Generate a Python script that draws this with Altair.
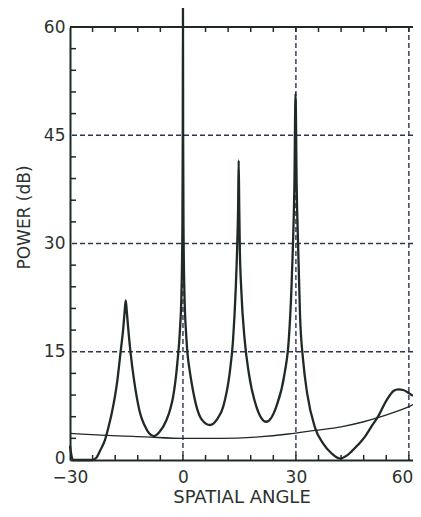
import altair as alt
import pandas as pd

# Spectrum (thick curve)
spec_x = [-30, -29.6, -29.2, -24, -23, -22, -20.7, -19.8, -18.9, -18, -17.4, -16.6, -15.9, -15.5,
          -15.2, -14.9, -14.5, -13.9, -13.0, -12.2, -11.4, -10.1, -9, -7.7, -6.2, -4.4, -3.4, -2.6,
          -1.5, -0.8, -0.4, -0.15, -0.05, 0, 0.05, 0.15, 0.4, 0.9, 1.9, 2.3, 3.6, 5, 7.2, 9, 10.7,
          12.4, 13.3, 14.0, 14.4, 14.65, 14.8, 14.95, 15.1, 15.5, 16.4, 17.5, 19.5, 22.1, 24.8,
          27.0, 28.1, 28.8, 29.2, 29.6, 29.9, 30.2, 30.6, 31.1, 31.9, 33.0, 35.0, 37.2, 39.5,
          41.7, 43.5, 44.8, 46.5, 48.3, 50, 51.8, 54.1, 56, 57.2, 58.5, 60.2, 61.1]
spec_y = [2.0, 0.6, 0, 0, 0.3, 1.3, 2.8, 4.5, 6.5, 9, 11.1, 14.8, 18, 20.5,
          22.1, 20.5, 18, 14.8, 11.1, 8.5, 6.5, 4.7, 3.7, 3.3, 3.9, 5.5, 7.0, 8.8,
          13.4, 18, 23, 32, 45, 62.7, 45, 32, 23, 17, 12, 10.7, 7.4, 5.6, 4.85, 5.6, 7.4,
          12, 16.6, 23.5, 29.5, 35, 41.5, 35, 29.5, 23.5, 16.6, 12, 7.4, 5.3, 7.4,
          12, 16.6, 23.5, 29.5, 38, 50.8, 38, 29.5, 20, 13.9, 9.2, 4.6, 2.3, 0.9,
          0.2, 0.6, 1.2, 2.1, 3.2, 4.6, 6.0, 8.3, 9.6, 9.8, 9.7, 9.2, 8.9]

# Smooth (thin) curve
thin_x = [-30, -20, -10, 0, 10, 20, 28, 35, 42, 48, 52, 56, 60, 61.1]
thin_y = [3.7, 3.4, 3.2, 3.0, 3.0, 3.2, 3.6, 4.1, 4.6, 5.3, 5.9, 6.6, 7.4, 7.7]

x_ticks = [-30, 0, 30, 60]
y_ticks = [0, 15, 30, 45, 60]
x_grid = [0, 30, 60]
y_grid = [15, 30, 45]
x_minor = [-24, -18, -12, -6, 0, 6, 12, 18, 24, 30, 36, 42, 48, 54, 60]
y_minor = [3, 6, 9, 12, 18, 21, 24, 27, 33, 36, 39, 42, 48, 51, 54, 57]

W, H = 343, 433
INK = "#1f2a24"
TXT = "#2b332e"
GRID = "#2c3550"
FONT = "DejaVu Sans"

xs = alt.Scale(domain=[-30, 61.1], nice=False, zero=False)
ys = alt.Scale(domain=[0, 60], nice=False)

spec = pd.DataFrame({"x": spec_x, "y": spec_y})
thin = pd.DataFrame({"x": thin_x, "y": thin_y})

xaxis = alt.Axis(values=x_ticks, title="SPATIAL ANGLE", grid=False, ticks=False,
                 domainColor=INK, domainWidth=2, labelFont=FONT, labelFontSize=17,
                 labelColor=TXT, labelPadding=9, labelFlush=False,
                 labelAlign=alt.condition("datum.value == 60", alt.value("right"), alt.value("center")),
                 labelOffset=alt.condition("datum.value == 60", alt.value(4), alt.value(0)),
                 titleFont=FONT, titleFontSize=18,
                 titleFontWeight="normal", titleColor=TXT, titlePadding=3)
yaxis = alt.Axis(values=y_ticks, title="POWER (dB)", grid=False, ticks=False,
                 domainColor=INK, domainWidth=2, labelFont=FONT, labelFontSize=17,
                 labelColor=TXT, labelPadding=5,
                 labelOffset=alt.condition("datum.value == 0", alt.value(-2), alt.value(0)),
                 titleFont=FONT, titleFontSize=17,
                 titleFontWeight="normal", titleColor=TXT, titleAngle=270,
                 titleX=-46, titleY=190, titleAlign="center", titleBaseline="middle")

hgrid = alt.Chart(pd.DataFrame({"y": y_grid})).mark_rule(
    color=GRID, strokeWidth=1.4, strokeDash=[5, 3]).encode(y=alt.Y("y:Q", scale=ys))
vgrid = alt.Chart(pd.DataFrame({"x": x_grid})).mark_rule(
    color=GRID, strokeWidth=1.4, strokeDash=[5, 3]).encode(x=alt.X("x:Q", scale=xs))

top_border = alt.Chart(pd.DataFrame({"a": [0]})).mark_rule(
    color=INK, strokeWidth=2).encode(y=alt.value(0))

xm = pd.DataFrame({"x": x_minor})
top_ticks = alt.Chart(xm).mark_rule(color=INK, strokeWidth=1.5).encode(
    x=alt.X("x:Q", scale=xs), y=alt.value(0), y2=alt.value(5))
bot_ticks = alt.Chart(xm).mark_rule(color=INK, strokeWidth=1.5).encode(
    x=alt.X("x:Q", scale=xs), y=alt.value(H - 5), y2=alt.value(H))
left_ticks = alt.Chart(pd.DataFrame({"y": y_minor})).mark_rule(
    color=INK, strokeWidth=1.5).encode(
    y=alt.Y("y:Q", scale=ys), x=alt.value(0), x2=alt.value(6))

thin_line = alt.Chart(thin).mark_line(
    color=INK, strokeWidth=1.3, interpolate="monotone", clip=False).encode(
    x=alt.X("x:Q", scale=xs, axis=xaxis), y=alt.Y("y:Q", scale=ys, axis=yaxis))
spec_line = alt.Chart(spec).mark_line(
    color=INK, strokeWidth=2.3, interpolate="monotone", clip=False).encode(
    x=alt.X("x:Q", scale=xs), y=alt.Y("y:Q", scale=ys))

chart = alt.layer(
    hgrid, vgrid, top_border, top_ticks, bot_ticks, left_ticks, thin_line, spec_line
).properties(
    width=W, height=H,
    autosize=alt.AutoSizeParams(type="none"),
    padding={"left": 62, "top": 19, "right": 0, "bottom": 45},
).configure_view(stroke=None).configure(background="white")

chart.save("out.html", embed_options={"renderer": "svg", "actions": False})
